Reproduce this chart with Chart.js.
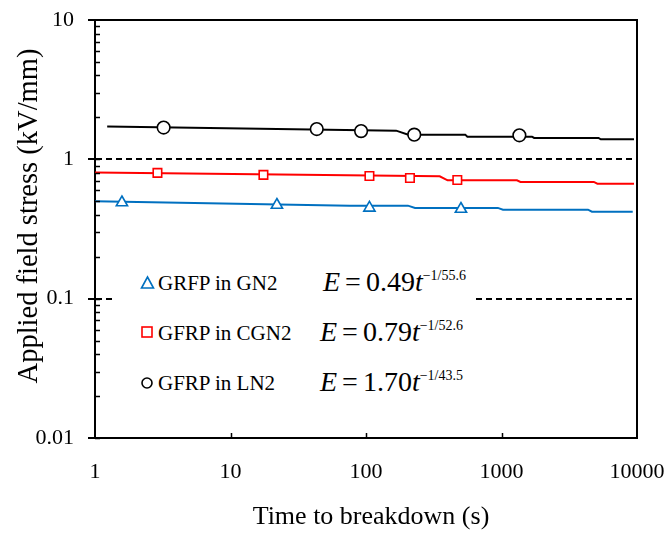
<!DOCTYPE html>
<html>
<head>
<meta charset="utf-8">
<script src="https://cdn.jsdelivr.net/npm/chart.js@4.4.1/dist/chart.umd.min.js"></script>
<style>
  html, body { margin: 0; padding: 0; background: #fff; }
  #wrap { position: relative; width: 668px; height: 534px; font-family: 'Liberation Serif', 'Times New Roman', serif; color: #000; }
  #chart { position: absolute; left: 0; top: 0; }
  .ytitle { position: absolute; left: 28px; top: 216px; width: 460px; text-align: center; font-size: 28.5px; line-height: 30px; white-space: nowrap; transform: translate(-50%, -50%) rotate(-90deg); }
  .xtitle { position: absolute; left: 371px; top: 516px; width: 400px; text-align: center; font-size: 26px; line-height: 30px; white-space: nowrap; transform: translate(-50%, -50%); }
  #legend { position: absolute; left: 114px; top: 262px; width: 362px; height: 142px; background: #fff; }
  #legend svg { position: absolute; left: 0; top: 0; }
  .lab { position: absolute; left: 44px; font-size: 21px; line-height: 21px; white-space: nowrap; }
  .eq { position: absolute; font-size: 28px; line-height: 28px; white-space: nowrap; word-spacing: -2px; }
  .eq sup { font-size: 14px; position: relative; top: -11px; vertical-align: baseline; word-spacing: 0; }
</style>
</head>
<body>
<div id="wrap">
  <canvas id="chart" width="668" height="534"></canvas>
  <div class="ytitle">Applied field stress (kV/mm)</div>
  <div class="xtitle">Time to breakdown (s)</div>
  <div id="legend">
    <svg width="362" height="142">
      <polygon points="33.5,15 39.5,26 27.5,26" fill="none" stroke="#0070C0" stroke-width="1.6"/>
      <rect x="28" y="65" width="10" height="10" fill="none" stroke="#FF0000" stroke-width="1.6"/>
      <circle cx="33" cy="121" r="5" fill="none" stroke="#000" stroke-width="1.6"/>
    </svg>
    <div class="lab" style="top:11px">GRFP in GN2</div>
    <div class="lab" style="top:61px">GFRP in CGN2</div>
    <div class="lab" style="top:111px">GFRP in LN2</div>
    <div class="eq" style="left:209px; top:5.5px"><i>E</i> = 0.49<i>t</i><sup>−1/55.6</sup></div>
    <div class="eq" style="left:206px; top:55.5px"><i>E</i> = 0.79<i>t</i><sup>−1/52.6</sup></div>
    <div class="eq" style="left:206px; top:105.5px"><i>E</i> = 1.70<i>t</i><sup>−1/43.5</sup></div>
  </div>
</div>
<script>
// tick values
const xTicks = [1, 10, 100, 1000, 10000];
const yTicks = [0.01, 0.1, 1, 10];

// measured breakdown points
const gnTime = [1.58, 22, 106, 502];
const gnStress = [0.49, 0.47, 0.448, 0.44];
const cgnTime = [2.89, 17.5, 106, 211, 472];
const cgnStress = [0.799, 0.773, 0.76, 0.735, 0.711];
const lnTime = [3.21, 43.3, 92, 227, 1355];
const lnStress = [1.69, 1.65, 1.594, 1.504, 1.487];

// fitted curves (stepped as drawn)
const gnFitTime = [1, 76, 204, 230, 940, 1025, 4350, 4650, 9300];
const gnFitStress = [0.50, 0.465, 0.465, 0.448, 0.448, 0.435, 0.435, 0.421, 0.421];
const cgnFitTime = [1, 350, 400, 1300, 1380, 4800, 5100, 9500];
const cgnFitStress = [0.806, 0.755, 0.707, 0.707, 0.688, 0.688, 0.669, 0.669];
const lnFitTime = [1.23, 167, 205, 540, 560, 1680, 1740, 5200, 5400, 9500];
const lnFitStress = [1.72, 1.607, 1.504, 1.504, 1.455, 1.455, 1.424, 1.424, 1.391, 1.391];

const BLUE = '#0070C0', RED = '#FF0000', BLACK = '#000000';

const pts = (xs, ys) => xs.map((t, i) => ({ x: t, y: ys[i] }));

const markers = (data, style, color, radius) => ({
    data, pointStyle: style, pointRadius: radius, pointBorderWidth: 1.6,
    pointBorderColor: color, pointBackgroundColor: '#fff', showLine: false, order: 1
});
const fit = (data, color) => ({
    data, showLine: true, borderColor: color, borderWidth: 2, pointRadius: 0,
    tension: 0, fill: false, order: 2
});

// box top/right edges and the small inside ticks
const frame = {
    id: 'frame',
    afterDraw(chart) {
        const { ctx, chartArea: a, scales: { x, y } } = chart;
        ctx.save();
        ctx.strokeStyle = '#000';
        ctx.lineWidth = 2;
        ctx.beginPath();
        ctx.moveTo(a.left - 1, a.top);
        ctx.lineTo(a.right, a.top);
        ctx.lineTo(a.right, a.bottom + 1);
        ctx.stroke();
        ctx.lineWidth = 1.5;
        ctx.beginPath();
        yTicks.slice(0, -1).forEach(d => {
            for (let m = 1; m < 10; m++) {
                const py = Math.round(y.getPixelForValue(d * m)) + 0.5;
                ctx.moveTo(a.left, py);
                ctx.lineTo(a.left + 5, py);
            }
        });
        xTicks.slice(1, -1).forEach(v => {
            const px = Math.round(x.getPixelForValue(v)) + 0.5;
            ctx.moveTo(px, a.bottom);
            ctx.lineTo(px, a.bottom - 5);
        });
        ctx.stroke();
        ctx.restore();
    }
};

Chart.defaults.font.family = "'Liberation Serif', 'Times New Roman', serif";
Chart.defaults.color = '#000';

new Chart(document.getElementById('chart'), {
    type: 'scatter',
    data: {
        datasets: [
            markers(pts(gnTime, gnStress), 'triangle', BLUE, 6.5),
            markers(pts(cgnTime, cgnStress), 'rect', RED, 6),
            markers(pts(lnTime, lnStress), 'circle', BLACK, 6.3),
            fit(pts(gnFitTime, gnFitStress), BLUE),
            fit(pts(cgnFitTime, cgnFitStress), RED),
            fit(pts(lnFitTime, lnFitStress), BLACK)
        ]
    },
    options: {
        responsive: false,
        animation: false,
        events: [],
        layout: { padding: { top: 20, right: 31, left: 0, bottom: 0 } },
        plugins: { legend: { display: false }, tooltip: { enabled: false } },
        scales: {
            x: {
                type: 'logarithmic', min: 1, max: 10000,
                afterBuildTicks: s => { s.ticks = xTicks.map(v => ({ value: v })); },
                afterFit: s => { s.height = 96; s.paddingLeft = 0; s.paddingRight = 0; },
                ticks: { callback: v => String(v), font: { size: 22 }, color: '#000', padding: 13, maxRotation: 0, autoSkip: false },
                grid: { display: false },
                border: { display: true, color: '#000', width: 2 }
            },
            y: {
                type: 'logarithmic', min: 0.01, max: 10,
                afterBuildTicks: s => { s.ticks = yTicks.map(v => ({ value: v })); },
                afterFit: s => { s.width = 95; s.paddingTop = 0; s.paddingBottom = 0; },
                ticks: { callback: v => String(v), font: { size: 22 }, color: '#000', padding: 14, autoSkip: false },
                grid: {
                    color: c => (c.tick && (c.tick.value === 1 || c.tick.value === 0.1)) ? '#000' : 'rgba(0,0,0,0)',
                    lineWidth: 2, tickColor: '#000', tickLength: 7, tickWidth: 2, tickBorderDash: []
                },
                border: { display: true, color: '#000', width: 2, dash: [6, 4] }
            }
        }
    },
    plugins: [frame]
});
</script>
</body>
</html>
